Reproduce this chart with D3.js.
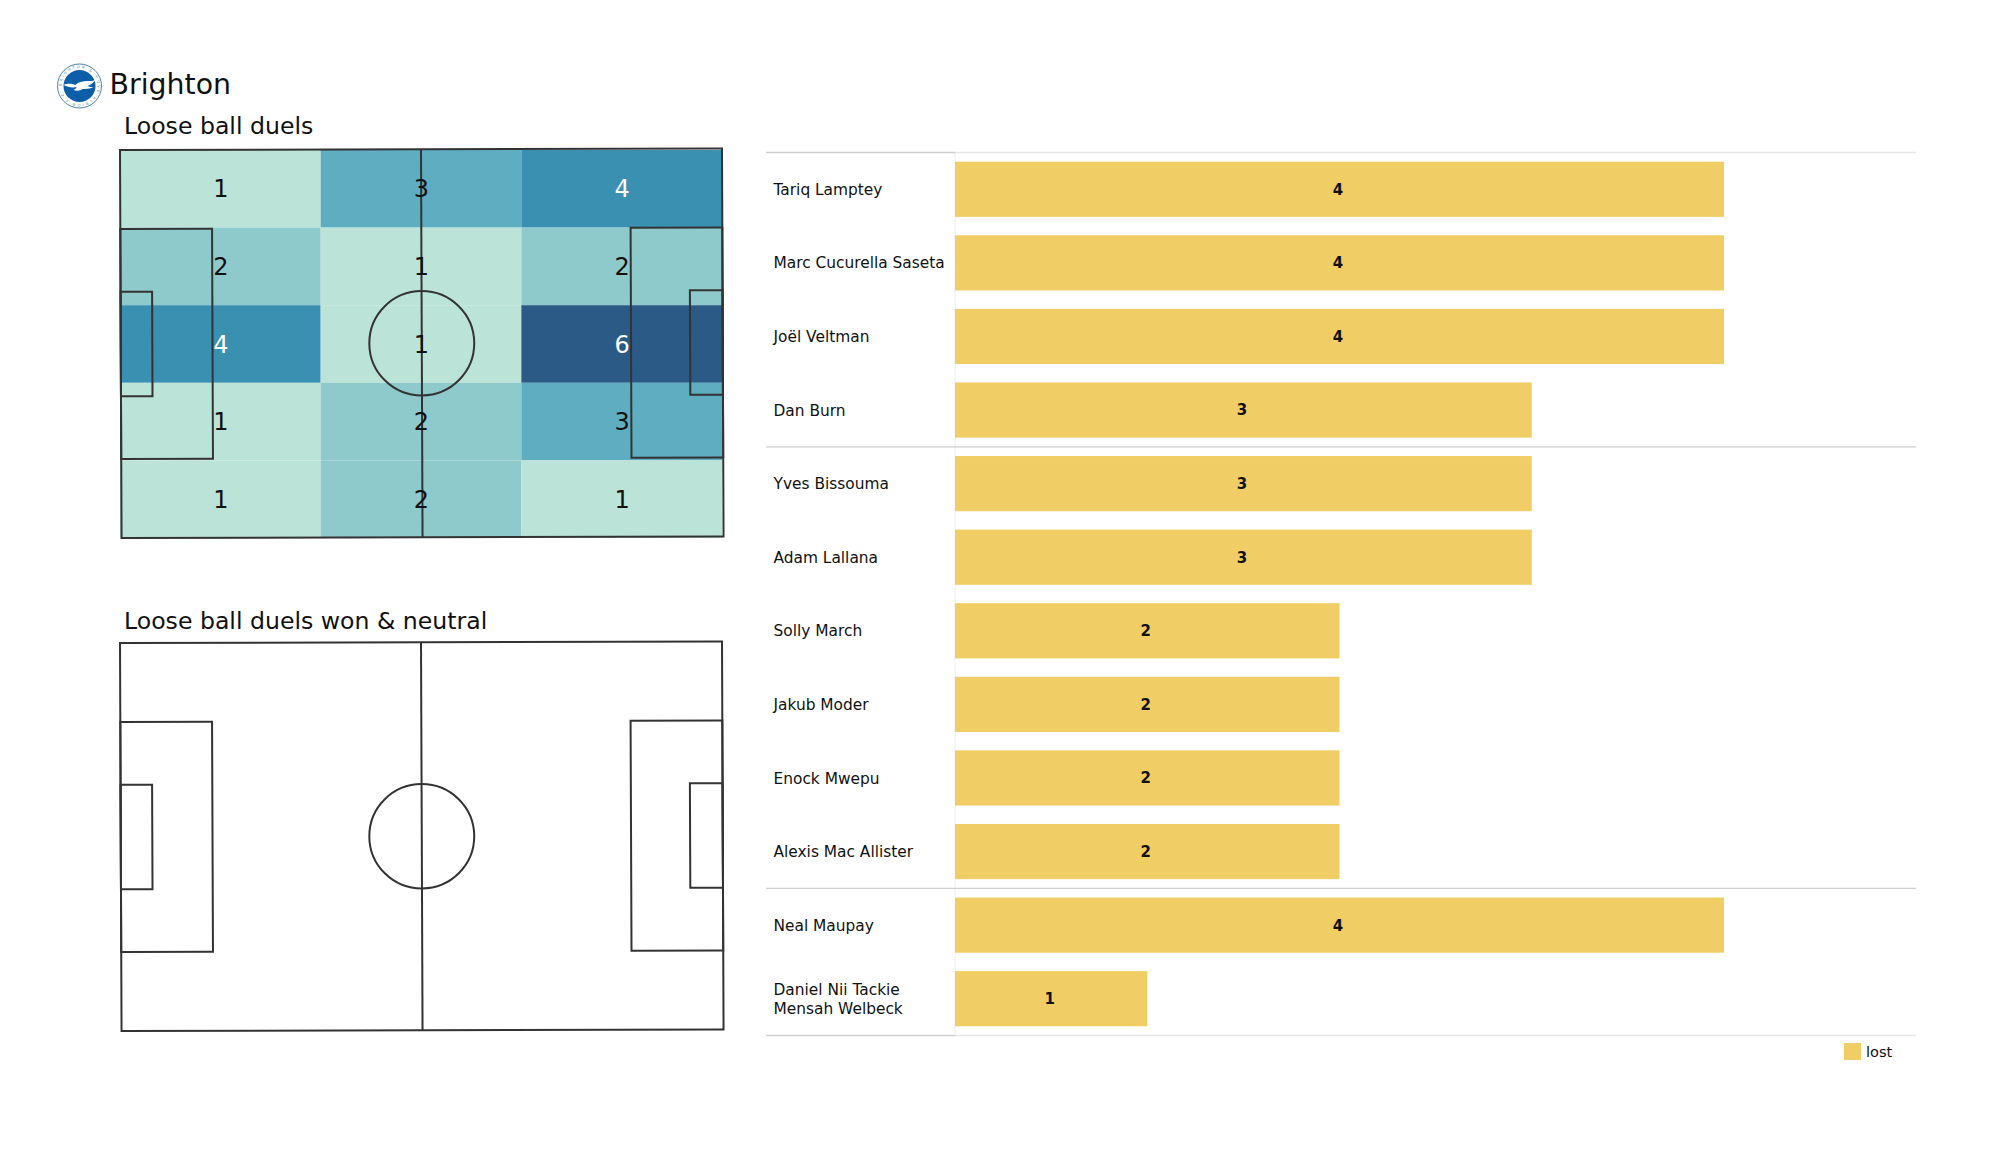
<!DOCTYPE html>
<html lang="en">
<head>
<meta charset="UTF-8">
<title>Brighton loose ball duels</title>
<script src="https://d3js.org/d3.v7.min.js"></script>
<style>
    html, body { margin: 0; background: #fff; }
    svg { display: block; }
    text { font-family: "DejaVu Sans", sans-serif; fill: #111; }
    .pitch-line { fill: none; stroke: #333; stroke-width: 2; }
</style>
</head>
<body>
<svg id="chart" width="2000" height="1175"></svg>
<script>
const teamName = "Brighton";
const heatTitle = "Loose ball duels";
const wonTitle = "Loose ball duels won & neutral";

// pitch zones, rows top to bottom, columns left to right
const zoneValues = [
    [1, 3, 4],
    [2, 1, 2],
    [4, 1, 6],
    [1, 2, 3],
    [1, 2, 1]
];
const colorValues = [1, 2, 3, 4, 6];
const colorRange = ["#bbe3d8", "#8ec9cc", "#5eadc1", "#3990b1", "#2b5a87"];

const players = ["Tariq Lamptey", "Marc Cucurella Saseta", "Joël Veltman", "Dan Burn", "Yves Bissouma", "Adam Lallana",
    "Solly March", "Jakub Moder", "Enock Mwepu", "Alexis Mac Allister", "Neal Maupay", "Daniel Nii Tackie\nMensah Welbeck"];
const lost = [4, 4, 4, 3, 3, 3, 2, 2, 2, 2, 4, 1];
const groupEnds = [3, 9, 11]; // last player of each position group
const legendLabels = ["lost"];

const svg = d3.select("#chart");

// header
const crest = svg.append("g").attr("transform", "translate(79.5,86)");
crest.append("circle").attr("r", 22).attr("fill", "#fff").attr("stroke", "#4d86ab").attr("stroke-width", 1);
crest.append("circle").attr("r", 16).attr("fill", "#0d5ea8");
crest.append("path").attr("id", "crest-ring").attr("fill", "none")
    .attr("d", "M-18,0A18,18 0 1,1 18,0A18,18 0 1,1 -18,0");
crest.append("text").attr("font-size", 3.6).style("fill", "#4d86ab")
    .append("textPath").attr("href", "#crest-ring").attr("textLength", 108)
    .text("BRIGHTON & HOVE ALBION F.C.");
crest.append("path").attr("fill", "#fff")
    .attr("d", "M-16,-1C-11,-3 -7,-2 -4,-1C-1,-4 3,-5 8,-5C11,-5 14,-5 16,-6C14,-3 11,-1 8,0C10,1 12,1 14,1C10,3 6,3 3,3C1,5 -3,5 -6,4C-4,3 -3,2 -3,1C-7,2 -12,1 -16,-1Z");

svg.append("text").attr("x", 109.5).attr("y", 93.5).attr("font-size", 28.4).text(teamName);
svg.append("text").attr("x", 124).attr("y", 134).attr("font-size", 23.6).text(heatTitle);
svg.append("text").attr("x", 124).attr("y", 628.5).attr("font-size", 23.6).text(wonTitle);

// pitch scales work in metres
const pitchX = d3.scaleLinear().domain([0, 105]).range([120, 722]);
const heatY = d3.scaleLinear().domain([0, 68]).range([150, 538]);
const wonY = d3.scaleLinear().domain([0, 68]).range([643, 1031]);

const colX = d3.scaleBand().domain(d3.range(3)).range([120, 722]);
const rowY = d3.scaleBand().domain(d3.range(5)).range([150, 538]);
const color = d3.scaleOrdinal().domain(colorValues).range(colorRange);

function drawPitch(g, x, y) {
    // scan of the original is a hair off square, so the lines lean slightly
    const x0 = x(0), y0 = y(0);
    const lines = g.append("g").attr("class", "pitch-line")
        .attr("transform", `translate(${x0},${y0}) matrix(1,-0.0025,0.004,1,0,0) translate(${-x0},${-y0})`);
    const box = (a, b, c, d) => lines.append("rect")
        .attr("x", x(a)).attr("y", y(c))
        .attr("width", x(b) - x(a)).attr("height", y(d) - y(c));
    box(0, 105, 0, 68);
    box(0, 16, 13.84, 54.16);
    box(89, 105, 13.84, 54.16);
    box(0, 5.5, 24.84, 43.16);
    box(99.3, 105, 24.84, 43.16);
    lines.append("line").attr("x1", x(52.5)).attr("x2", x(52.5)).attr("y1", y(0)).attr("y2", y(68));
    lines.append("ellipse").attr("cx", x(52.5)).attr("cy", y(34))
        .attr("rx", x(9.15) - x(0)).attr("ry", y(9.15) - y(0));
}

const heat = svg.append("g");
const cells = zoneValues.flatMap((row, r) => row.map((v, c) => ({ r, c, v })));
heat.selectAll("rect").data(cells).enter().append("rect")
    .attr("x", d => colX(d.c)).attr("y", d => rowY(d.r))
    .attr("width", colX.bandwidth()).attr("height", rowY.bandwidth())
    .attr("fill", d => color(d.v));
drawPitch(heat, pitchX, heatY);
heat.selectAll("text").data(cells).enter().append("text")
    .attr("x", d => colX(d.c) + colX.bandwidth() / 2 + 0.5)
    .attr("y", d => rowY(d.r) + rowY.bandwidth() / 2)
    .attr("dy", "0.36em").attr("text-anchor", "middle").attr("font-size", 24)
    .style("fill", d => d.v >= 4 ? "#fff" : "#111")
    .text(d => d.v);

drawPitch(svg.append("g"), pitchX, wonY);

// bars
const barX = d3.scaleLinear().domain([0, 4]).range([955, 1724]);
const barY = d3.scaleBand().domain(players).range([152.5, 1035.5]).paddingInner(0.25).paddingOuter(0.125);
const step = barY.step();
const ruleY = i => barY(players[i]) + barY.bandwidth() + (step - barY.bandwidth()) / 2;

svg.append("line").attr("x1", 955).attr("x2", 955).attr("y1", 152).attr("y2", 1036).attr("stroke", "#f0f0f0");
[-1, ...groupEnds].forEach(i => {
    const yy = i < 0 ? barY(players[0]) - (step - barY.bandwidth()) / 2 : ruleY(i);
    svg.append("line").attr("x1", 766).attr("x2", 955).attr("y1", yy).attr("y2", yy).attr("stroke", "#cfcfcf").attr("stroke-width", 1.3);
    svg.append("line").attr("x1", 955).attr("x2", 1916).attr("y1", yy).attr("y2", yy)
        .attr("stroke", i < 0 || i === 11 ? "#e6e6e6" : "#cfcfcf").attr("stroke-width", 1.3);
});

const rows = players.map((name, i) => ({ name, value: lost[i] }));
svg.selectAll("rect.bar").data(rows).enter().append("rect")
    .attr("class", "bar")
    .attr("x", barX(0)).attr("y", d => barY(d.name))
    .attr("width", d => barX(d.value) - barX(0)).attr("height", barY.bandwidth())
    .attr("fill", "#f0ce65");

svg.selectAll("text.val").data(rows).enter().append("text")
    .attr("class", "val")
    .attr("x", d => barX(d.value / 2) - 1.5).attr("y", d => barY(d.name) + barY.bandwidth() / 2)
    .attr("dy", "0.36em").attr("text-anchor", "middle")
    .attr("font-size", 15).attr("font-weight", "bold")
    .text(d => d.value);

const names = svg.selectAll("text.name").data(rows).enter().append("text")
    .attr("class", "name").attr("font-size", 15.4)
    .attr("y", d => barY(d.name) + barY.bandwidth() / 2);
names.each(function(d) {
    const parts = d.name.split("\n");
    d3.select(this).selectAll("tspan").data(parts).enter().append("tspan")
        .attr("x", 773.5)
        .attr("dy", (p, i) => i === 0 ? (0.36 - (parts.length - 1) * 0.62) + "em" : "1.24em")
        .text(p => p);
});

// legend
svg.append("rect").attr("x", 1844).attr("y", 1043).attr("width", 17).attr("height", 17).attr("fill", "#f0ce65");
svg.append("text").attr("x", 1866).attr("y", 1057).attr("font-size", 14.6).text(legendLabels[0]);
</script>
</body>
</html>
